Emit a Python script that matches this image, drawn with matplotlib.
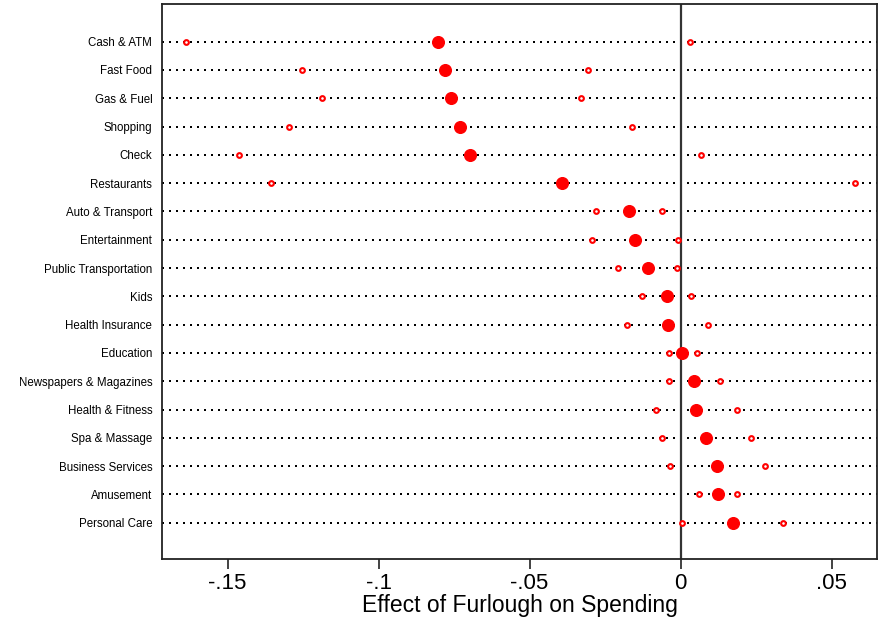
import numpy as np
import matplotlib
matplotlib.use("Agg")
import matplotlib.pyplot as plt

plt.rcParams['font.family'] = ['Liberation Sans', 'DejaVu Sans']

# --- estimates: furlough effect by spending category ---
categories = ["Cash & ATM", "Fast Food", "Gas & Fuel", "Shopping", "Check",
              "Restaurants", "Auto & Transport", "Entertainment",
              "Public Transportation", "Kids", "Health Insurance", "Education",
              "Newspapers & Magazines", "Health & Fitness", "Spa & Massage",
              "Business Services", "Amusement", "Personal Care"]
coef = [-0.0803, -0.0780, -0.0759, -0.0729, -0.0697, -0.0391, -0.0172,
        -0.0152, -0.0109, -0.0046, -0.0042, 0.0006, 0.0046, 0.0052,
        0.0085, 0.0121, 0.0125, 0.0172]
ci_low = [-0.1637, -0.1252, -0.1188, -0.1296, -0.1462, -0.1357, -0.0281,
          -0.0294, -0.0206, -0.0127, -0.0176, -0.0038, -0.0039, -0.0083,
          -0.0061, -0.0036, 0.0062, 0.0004]
ci_high = [0.0032, -0.0306, -0.0329, -0.0160, 0.0068, 0.0577, -0.0061,
           -0.0009, -0.0011, 0.0035, 0.0090, 0.0054, 0.0132, 0.0188,
           0.0232, 0.0279, 0.0188, 0.0338]
xticks = [-0.15, -0.1, -0.05, 0, 0.05]
xtick_labels = ["-.15", "-.1", "-.05", "0", ".05"]

fig = plt.figure(figsize=(8.85, 6.25), dpi=100)
ax = fig.add_axes([0.1831, 0.1056, 0.8084, 0.888])

y = np.arange(1, len(categories) + 1)
xmin, xmax = -0.1717, 0.0652

# dotted guide lines per row (2px dots, 7px period)
for yi in y:
    ln, = ax.plot([xmin, xmax], [yi, yi], color='black', lw=1.44,
                  linestyle=(0, (1, 2.5)), zorder=1)
    ln.set_dash_capstyle('butt')

ax.axvline(0, color='#333333', lw=1.6, zorder=2)

ax.plot(ci_low, y, 'o', ms=3.4, mfc='white', mec='red', mew=1.5,
        linestyle='none', zorder=3)
ax.plot(ci_high, y, 'o', ms=3.4, mfc='white', mec='red', mew=1.5,
        linestyle='none', zorder=3)
ax.plot(coef, y, 'o', ms=8.4, color='red', mec='red', linestyle='none',
        zorder=4)

ax.set_xlim(xmin, xmax)
ax.set_ylim(19.28, -0.33)
ax.set_yticks(y)
ax.set_yticklabels(categories, fontsize=8.3)
ax.tick_params(axis='y', length=0, pad=7)
ax.set_xticks(xticks)
ax.set_xticklabels(xtick_labels, fontsize=16)
ax.tick_params(axis='x', length=7, width=1.2, pad=3, color='#222222')
ax.set_xlabel("Effect of Furlough on Spending", fontsize=16.5, labelpad=0)

for s in ax.spines.values():
    s.set_color('#222222')
    s.set_linewidth(1.3)

fig.savefig("out.png", dpi=100)
